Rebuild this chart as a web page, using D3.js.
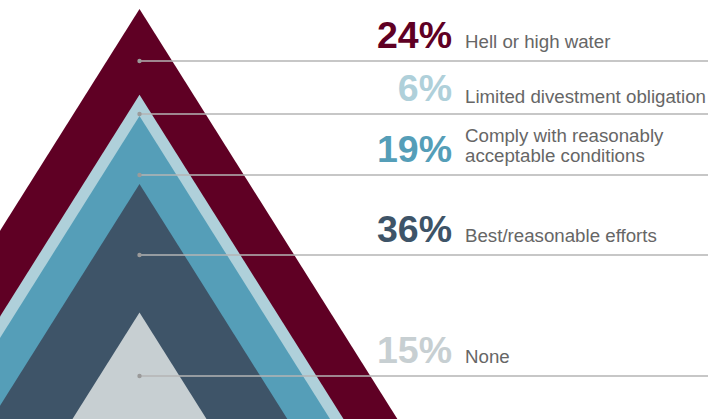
<!DOCTYPE html>
<html>
<head>
<meta charset="utf-8">
<script src="https://cdn.jsdelivr.net/npm/d3@7"></script>
<style>
  html, body { margin: 0; padding: 0; background: #fff; }
  svg { display: block; }
</style>
</head>
<body>
<svg id="chart" width="708" height="419"></svg>
<script>
// Share of deals by regulatory efforts standard (outermost to innermost)
const categories = [
  "Hell or high water",
  "Limited divestment obligation",
  "Comply with reasonably acceptable conditions",
  "Best/reasonable efforts",
  "None"
];
const labelLines = [
  ["Hell or high water"],
  ["Limited divestment obligation"],
  ["Comply with reasonably", "acceptable conditions"],
  ["Best/reasonable efforts"],
  ["None"]
];
const values = [24, 6, 19, 36, 15];

const W = 708, H = 419;
const colors = ["#5f0024", "#afd0da", "#559eb8", "#3e5468", "#c7cfd2"];

const svg = d3.select("#chart");

// Cumulative share above each triangle's apex
let acc = 0;
const layers = values.map((v, i) => {
  const start = acc; acc += v;
  return { cat: categories[i], value: v, start, color: colors[i], lines: labelLines[i], i };
});

// Apex height follows the cumulative share, outermost triangle first
const apexY = d3.scaleLinear().domain([0, 100]).range([9, 366]);
const cx = 139.5;
const slope = 0.629; // half-width per unit of height

const clip = svg.append("defs").append("clipPath").attr("id", "frame");
clip.append("rect").attr("width", W).attr("height", H);

const g = svg.append("g").attr("clip-path", "url(#frame)");
g.selectAll("path.tri")
  .data(layers)
  .join("path")
  .attr("class", "tri")
  .attr("fill", d => d.color)
  .attr("d", d => {
    const top = apexY(d.start);
    const h = H + 5 - top;
    return d3.line()([[cx, top], [cx + h * slope, top + h], [cx - h * slope, top + h]]) + "Z";
  });

// Label rows (text baselines) and leaders
const rowBase = [48, 101, 162, 242, 363];
const leaderGap = 13;

const rows = svg.selectAll("g.row").data(layers).join("g").attr("class", "row");

rows.append("line")
  .attr("x1", cx).attr("x2", W)
  .attr("y1", (d, i) => rowBase[i] + leaderGap)
  .attr("y2", (d, i) => rowBase[i] + leaderGap)
  .attr("stroke", "#b4b4b4")
  .attr("stroke-width", 1.4);

rows.append("circle")
  .attr("cx", cx)
  .attr("cy", (d, i) => rowBase[i] + leaderGap)
  .attr("r", 2.2)
  .attr("fill", "#9a9a9a");

rows.append("text")
  .attr("x", 452)
  .attr("y", (d, i) => rowBase[i])
  .attr("text-anchor", "end")
  .attr("font-family", "Liberation Sans, Arial, sans-serif")
  .attr("font-weight", "bold")
  .attr("font-size", 37.5)
  .attr("fill", d => d.color)
  .text(d => d.value + "%");

rows.append("text")
  .attr("x", 465)
  .attr("y", (d, i) => rowBase[i] + (d.lines.length > 1 ? -20 : (i === 1 ? 2 : 0)))
  .attr("font-family", "Liberation Sans, Arial, sans-serif")
  .attr("font-size", 18.7)
  .attr("fill", "#666666")
  .selectAll("tspan")
  .data(d => d.lines)
  .join("tspan")
  .attr("x", 465)
  .attr("dy", (t, j) => j === 0 ? 0 : 20)
  .text(t => t);
</script>
</body>
</html>
